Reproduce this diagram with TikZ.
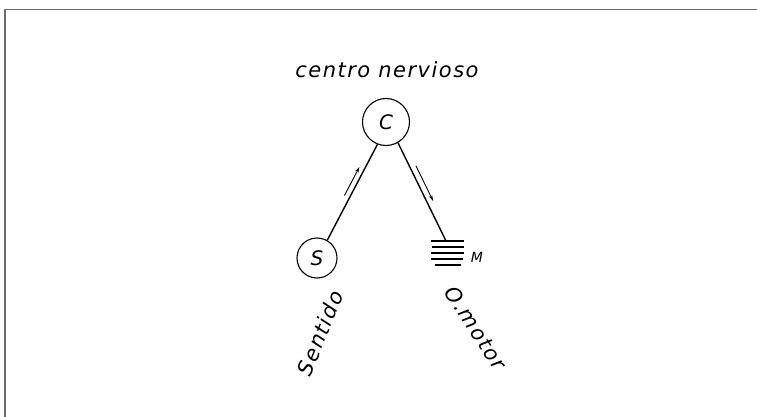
\documentclass[tikz,border=0pt]{standalone}
\usepackage{fontspec}
\setmainfont{DejaVu Sans}
\usetikzlibrary{arrows.meta,calc}
\begin{document}
\begin{tikzpicture}[x=1pt,y=-1pt,
  conn/.style={line width=1.4pt},
  circ/.style={circle,draw,line width=1.1pt,inner sep=0pt,font=\fontsize{20}{23}\selectfont\itshape},
  flow/.style={line width=0.9pt,-{Stealth[length=6pt,width=3.5pt]}},
  bar/.style={line width=2.6pt},
  hand/.style={inner sep=0pt,font=\fontsize{21}{24}\selectfont\itshape\addfontfeatures{LetterSpace=7}}]
\useasboundingbox (0,0) rectangle (757,417);
\draw[gray!85!black,line width=1.6pt] (5,417) -- (5,9.7) -- (757,9.7);
\node[hand] (title) at (387,70) {centro nervioso};
\node[circ,minimum size=47pt] (C) at (386,122) {C};
\node[circ,minimum size=40pt] (S) at (317,258) {S};
\coordinate (Mtop) at (446,241);
\draw[bar] (431,241) -- (464,241);
\draw[bar] (432,247) -- (464,247);
\draw[bar] (431,253) -- (464,253);
\draw[bar] (431,259) -- (463,259);
\draw[bar] (435,265) -- (461,265);
\node[font=\fontsize{14}{16}\selectfont\itshape] (M) at (477,257) {M};
\draw[conn] (C.-111) -- (S.60);
\draw[conn] (C.-60) -- (Mtop);
\draw[flow] ($(S.60)!0.44!(C.-111)!5.5pt!90:(C.-111)$) -- ($(S.60)!0.74!(C.-111)!5.5pt!-90:(S.60)$);
\draw[flow] ($(C.-60)!0.26!(Mtop)!6pt!90:(Mtop)$) -- ($(C.-60)!0.62!(Mtop)!6pt!-90:(C.-60)$);
\node[hand,rotate=68] (sent) at (320,333) {Sentido};
\node[hand,rotate=-57] (motor) at (476,328) {O.motor};
\end{tikzpicture}
\end{document}
